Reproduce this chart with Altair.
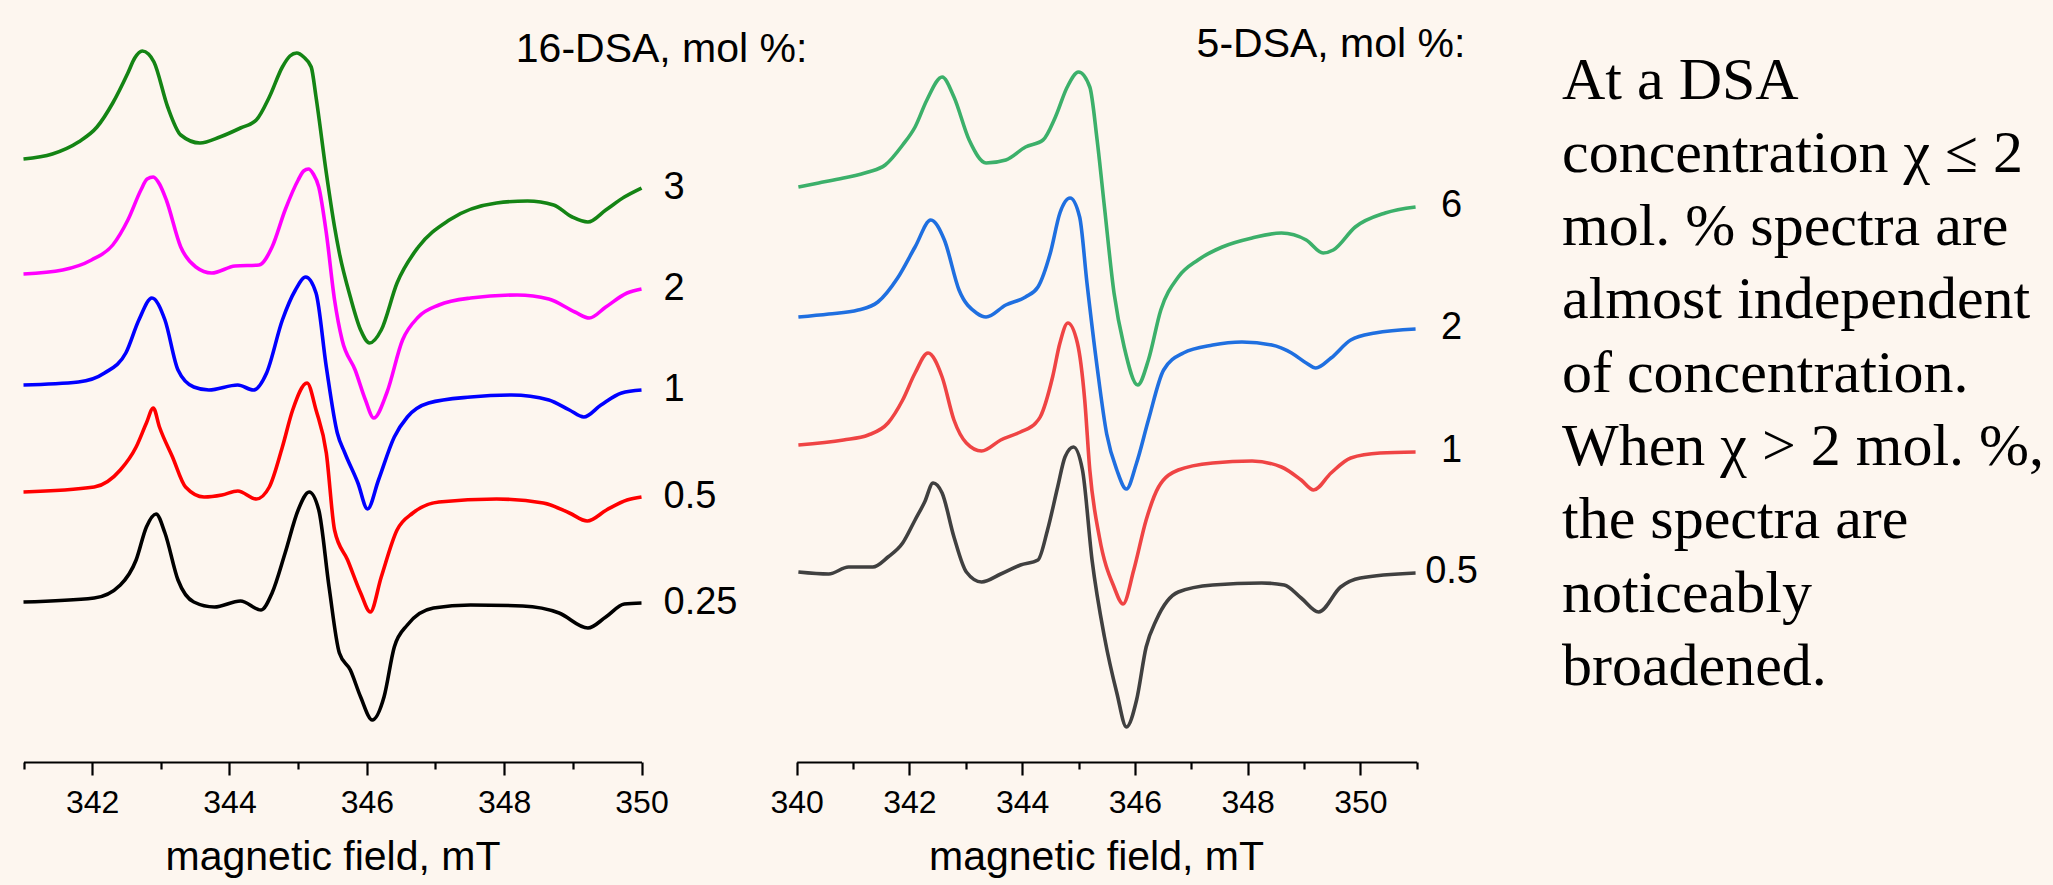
import altair as alt
import pandas as pd

# ---------------- 16-DSA spectra (left panel), field in mT, signal in a.u. ----------------
dsa16_conc = ["3", "2", "1", "0.5", "0.25"]
dsa16_colors = ["#148414", "#ff00ff", "#0000ff", "#ff0000", "#000000"]

dsa16_3_x = [341.00, 341.42, 341.80, 342.07, 342.30, 342.52, 342.62, 342.73, 342.82, 342.90, 343.10, 343.29,
             343.57, 343.86, 344.16, 344.39, 344.58, 344.77, 344.88, 344.98, 345.08, 345.19, 345.26, 345.41,
             345.53, 345.60, 345.76, 345.91, 346.04, 346.21, 346.44, 346.75, 347.20, 347.89, 348.34, 348.72,
             348.99, 349.22, 349.48, 349.75, 350.00]
dsa16_3_y = [6.03, 6.08, 6.20, 6.35, 6.59, 6.89, 7.04, 7.11, 7.08, 7.00, 6.55, 6.27,
             6.19, 6.25, 6.34, 6.42, 6.65, 6.95, 7.06, 7.09, 7.05, 6.95, 6.65, 5.89,
             5.35, 5.09, 4.65, 4.32, 4.19, 4.32, 4.79, 5.15, 5.42, 5.59, 5.61, 5.57,
             5.45, 5.40, 5.52, 5.65, 5.74]

dsa16_2_x = [341.00, 341.57, 341.99, 342.30, 342.52, 342.71, 342.80, 342.89, 342.98, 343.08, 343.29, 343.51,
             343.74, 344.08, 344.43, 344.62, 344.81, 345.00, 345.08, 345.15, 345.22, 345.30, 345.41, 345.53,
             345.64, 345.83, 345.98, 346.10, 346.29, 346.52, 346.75, 347.05, 347.51, 348.19, 348.65, 349.03,
             349.24, 349.48, 349.79, 350.00]
dsa16_2_y = [4.88, 4.92, 5.02, 5.17, 5.42, 5.72, 5.83, 5.85, 5.78, 5.62, 5.15, 4.95,
             4.89, 4.96, 4.97, 5.15, 5.52, 5.82, 5.91, 5.93, 5.88, 5.75, 5.29, 4.62,
             4.22, 3.92, 3.62, 3.44, 3.69, 4.22, 4.45, 4.57, 4.64, 4.67, 4.63, 4.50,
             4.44, 4.55, 4.69, 4.73]

dsa16_1_x = [341.00, 341.80, 342.18, 342.49, 342.68, 342.87, 343.06, 343.25, 343.48, 343.70, 344.12, 344.35,
             344.54, 344.77, 344.96, 345.11, 345.26, 345.41, 345.57, 345.68, 345.87, 346.01, 346.17, 346.40,
             346.59, 346.90, 347.51, 348.11, 348.65, 348.95, 349.16, 349.41, 349.71, 350.00]
dsa16_1_y = [3.77, 3.80, 3.89, 4.09, 4.42, 4.64, 4.42, 3.92, 3.75, 3.72, 3.77, 3.72,
             3.89, 4.42, 4.72, 4.85, 4.69, 3.95, 3.29, 3.09, 2.79, 2.53, 2.82, 3.25,
             3.45, 3.59, 3.65, 3.67, 3.62, 3.52, 3.45, 3.57, 3.69, 3.72]

dsa16_05_x = [341.00, 342.03, 342.41, 342.64, 342.79, 342.89, 342.98, 343.17, 343.36, 343.63, 343.89, 344.12,
              344.39, 344.58, 344.77, 344.92, 345.13, 345.26, 345.41, 345.53, 345.72, 345.91, 346.05, 346.21,
              346.44, 346.67, 347.05, 347.89, 348.57, 348.95, 349.21, 349.49, 349.79, 350.00]
dsa16_05_y = [2.70, 2.75, 2.92, 3.15, 3.39, 3.54, 3.35, 3.05, 2.75, 2.65, 2.67, 2.71,
              2.63, 2.75, 3.15, 3.52, 3.79, 3.52, 3.09, 2.32, 2.02, 1.69, 1.50, 1.85,
              2.32, 2.49, 2.60, 2.63, 2.59, 2.49, 2.41, 2.52, 2.62, 2.65]

dsa16_025_x = [341.00, 342.03, 342.41, 342.64, 342.79, 342.93, 343.06, 343.25, 343.48, 343.78, 344.16, 344.46,
               344.62, 344.81, 345.00, 345.16, 345.30, 345.45, 345.60, 345.76, 345.91, 346.08, 346.25, 346.40,
               346.59, 346.97, 347.51, 348.27, 348.80, 349.22, 349.48, 349.75, 350.00]
dsa16_025_y = [1.60, 1.64, 1.77, 2.02, 2.35, 2.48, 2.29, 1.82, 1.60, 1.55, 1.61, 1.52,
               1.69, 2.09, 2.52, 2.70, 2.52, 1.75, 1.09, 0.92, 0.65, 0.42, 0.65, 1.15,
               1.37, 1.54, 1.57, 1.56, 1.49, 1.34, 1.45, 1.58, 1.59]

# ---------------- 5-DSA spectra (right panel) ----------------
dsa5_conc = ["6", "2", "1", "0.5"]
dsa5_colors = ["#3cb06a", "#1f6fe0", "#ef4444", "#404040"]

dsa5_6_x = [340.03, 340.39, 340.83, 341.27, 341.57, 341.88, 342.10, 342.31, 342.58, 342.79, 343.06, 343.36,
            343.71, 344.06, 344.37, 344.59, 344.80, 345.00, 345.20, 345.33, 345.46, 345.63, 345.81, 346.05,
            346.24, 346.46, 346.77, 347.12, 347.55, 348.08, 348.60, 349.04, 349.34, 349.52, 349.91, 350.44,
            350.98]
dsa5_6_y = [5.75, 5.79, 5.84, 5.90, 5.97, 6.17, 6.35, 6.62, 6.85, 6.65, 6.22, 5.99,
            6.02, 6.15, 6.22, 6.45, 6.75, 6.90, 6.75, 6.22, 5.55, 4.69, 4.15, 3.77,
            4.02, 4.52, 4.85, 5.02, 5.15, 5.24, 5.29, 5.22, 5.09, 5.12, 5.35, 5.49,
            5.55]

dsa5_2_x = [340.03, 340.57, 341.09, 341.44, 341.79, 342.10, 342.38, 342.62, 342.88, 343.19, 343.36, 343.71,
            344.06, 344.28, 344.50, 344.67, 344.85, 345.02, 345.15, 345.33, 345.50, 345.68, 345.85, 346.03,
            346.24, 346.51, 346.86, 347.38, 347.90, 348.43, 348.78, 349.04, 349.21, 349.48, 349.83, 350.26,
            350.98]
dsa5_2_y = [4.45, 4.48, 4.52, 4.60, 4.84, 5.15, 5.42, 5.22, 4.72, 4.49, 4.45, 4.57,
            4.65, 4.75, 5.09, 5.49, 5.64, 5.45, 4.79, 3.95, 3.28, 2.92, 2.73, 2.99,
            3.42, 3.92, 4.09, 4.17, 4.20, 4.17, 4.09, 3.99, 3.94, 4.04, 4.22, 4.29,
            4.33]

dsa5_1_x = [340.03, 340.83, 341.27, 341.62, 341.88, 342.10, 342.33, 342.58, 342.79, 343.01, 343.28, 343.62,
            343.97, 344.24, 344.32, 344.54, 344.67, 344.81, 344.98, 345.11, 345.20, 345.37, 345.63, 345.79,
            345.98, 346.20, 346.42, 346.77, 347.38, 348.08, 348.60, 348.95, 349.17, 349.48, 349.83, 350.35,
            350.98]
dsa5_1_y = [3.17, 3.22, 3.27, 3.39, 3.62, 3.89, 4.09, 3.85, 3.42, 3.19, 3.11, 3.22,
            3.30, 3.39, 3.45, 3.85, 4.19, 4.39, 4.19, 3.62, 2.92, 2.25, 1.75, 1.58,
            1.92, 2.42, 2.75, 2.92, 2.99, 3.01, 2.95, 2.82, 2.72, 2.89, 3.04, 3.09,
            3.10]

dsa5_05_x = [340.03, 340.57, 340.92, 341.35, 341.62, 341.88, 342.10, 342.27, 342.42, 342.58, 342.79, 343.01,
             343.28, 343.62, 343.97, 344.28, 344.45, 344.63, 344.76, 344.91, 345.07, 345.24, 345.46, 345.68,
             345.85, 346.03, 346.20, 346.38, 346.77, 347.38, 348.25, 348.65, 348.95, 349.26, 349.65, 350.00,
             350.98]
dsa5_05_y = [1.90, 1.88, 1.95, 1.95, 2.05, 2.19, 2.42, 2.60, 2.79, 2.69, 2.25, 1.90,
             1.80, 1.88, 1.97, 2.02, 2.32, 2.75, 3.05, 3.15, 2.92, 2.02, 1.25, 0.69,
             0.35, 0.62, 1.15, 1.42, 1.70, 1.77, 1.79, 1.77, 1.64, 1.50, 1.75, 1.84,
             1.89]

note_lines = ["At a DSA", "concentration \u03c7 \u2264 2", "mol. %  spectra are", "almost independent",
              "of concentration.", "When \u03c7 > 2 mol. %,", "the spectra are", "noticeably", "broadened."]


def frame(panel, conc, xs, ys):
    return pd.DataFrame({"field": xs, "signal": ys, "series": panel + " " + conc,
                         "conc": conc, "i": list(range(len(xs)))})


left_df = pd.concat([
    frame("16", "3", dsa16_3_x, dsa16_3_y),
    frame("16", "2", dsa16_2_x, dsa16_2_y),
    frame("16", "1", dsa16_1_x, dsa16_1_y),
    frame("16", "0.5", dsa16_05_x, dsa16_05_y),
    frame("16", "0.25", dsa16_025_x, dsa16_025_y),
], ignore_index=True)
right_df = pd.concat([
    frame("5", "6", dsa5_6_x, dsa5_6_y),
    frame("5", "2", dsa5_2_x, dsa5_2_y),
    frame("5", "1", dsa5_1_x, dsa5_1_y),
    frame("5", "0.5", dsa5_05_x, dsa5_05_y),
], ignore_index=True)

left_end = left_df.loc[left_df.groupby("series")["i"].idxmax()]
right_end = right_df.loc[right_df.groupby("series")["i"].idxmax()]

FONT = "Liberation Sans"


def field_axis(values, title_x):
    return alt.Axis(
        values=values, orient="bottom", grid=False,
        labelExpr="datum.value % 2 === 0 ? datum.label : ''",
        labelOverlap=False, labelFlush=False,
        labelFont=FONT, labelFontSize=32, labelColor="black", labelPadding=12,
        domainColor="black", domainWidth=2.2, tickColor="black", tickWidth=2.2,
        tickSize={"condition": {"test": "datum.value % 2 === 0", "value": 13}, "value": 7},
        title="magnetic field, mT", titleFont=FONT, titleFontSize=41,
        titleFontWeight="normal", titleColor="black", titlePadding=19, titleX=title_x,
    )


y_enc = alt.Y("signal:Q", scale=alt.Scale(domain=[0, 7.62], nice=False, zero=False), axis=None)

x_left = alt.X("field:Q", axis=field_axis(list(range(341, 351)), 332.5),
               scale=alt.Scale(domain=[341, 350], range=[23.5, 641.5], nice=False, zero=False))
x_right = alt.X("field:Q", axis=field_axis(list(range(340, 352)), 1096),
                scale=alt.Scale(domain=[340, 351], range=[796.7, 1416.7], nice=False, zero=False))

left_series = ["16 " + c for c in dsa16_conc]
right_series = ["5 " + c for c in dsa5_conc]

left_lines = alt.Chart(left_df).mark_line(strokeWidth=3.6, interpolate="monotone").encode(
    x=x_left, y=y_enc, order="i:Q",
    color=alt.Color("series:N", scale=alt.Scale(domain=left_series, range=dsa16_colors), legend=None),
)
left_labels = alt.Chart(left_end).mark_text(
    align="left", baseline="middle", dx=22, font=FONT, fontSize=38, color="black"
).encode(x=x_left, y=y_enc, text="conc:N")
left_title = alt.Chart(pd.DataFrame({"k": [0]})).mark_text(
    text="16-DSA, mol %:", align="center", baseline="alphabetic", font=FONT, fontSize=41, color="black"
).encode(x=alt.value(661.6), y=alt.value(62))

right_lines = alt.Chart(right_df).mark_line(strokeWidth=3.6, interpolate="monotone").encode(
    x=x_right, y=y_enc, order="i:Q",
    color=alt.Color("series:N", scale=alt.Scale(domain=right_series, range=dsa5_colors), legend=None),
)
right_labels = alt.Chart(right_end).mark_text(
    align="center", baseline="middle", dx=36, dy=-1, font=FONT, fontSize=38, color="black"
).encode(x=x_right, y=y_enc, text="conc:N")
right_title = alt.Chart(pd.DataFrame({"k": [0]})).mark_text(
    text="5-DSA, mol %:", align="center", baseline="alphabetic", font=FONT, fontSize=41, color="black"
).encode(x=alt.value(1331), y=alt.value(56.5))

note = alt.Chart(pd.DataFrame({"k": [0]})).mark_text(
    text=note_lines, align="left", baseline="alphabetic", font="Liberation Serif",
    fontSize=60, lineHeight=73.3, color="black"
).encode(x=alt.value(1562), y=alt.value(98.5))

left = alt.layer(left_lines, left_labels, left_title)
right = alt.layer(right_lines, right_labels, right_title)

chart = alt.layer(left, right, note).resolve_scale(
    x="independent", color="independent"
).properties(
    width=2053, height=762, autosize="none",
    padding={"left": 0, "top": 0, "right": 0, "bottom": 123},
    background="#fdf6ef",
).configure_view(stroke=None)

chart.save("out.html", embed_options={"renderer": "svg", "actions": False})
